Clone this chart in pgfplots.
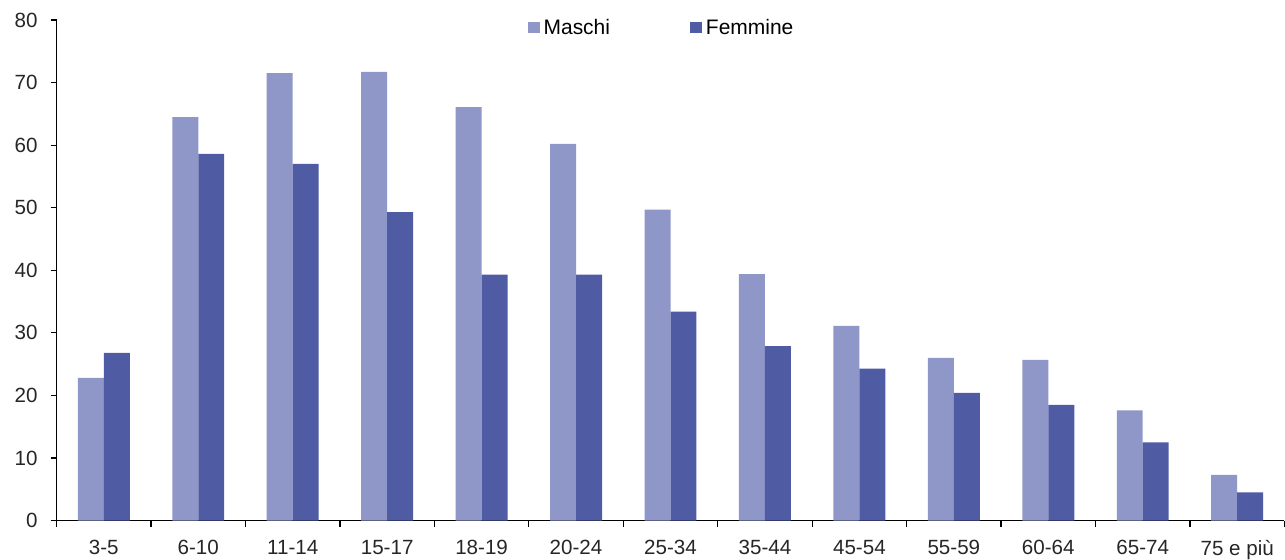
\documentclass[border={4pt 0pt 0pt 5.5pt}]{standalone}
\usepackage{fontspec}
\setmainfont{Liberation Sans}
\usepackage{pgfplots}
\pgfplotsset{compat=1.18}
\definecolor{maschi}{HTML}{8F96C8}
\definecolor{femmine}{HTML}{4F5BA3}
\begin{document}
\begin{tikzpicture}
\begin{axis}[
  scale only axis,
  width=614.5pt, height=250.5pt,
  ymin=0, ymax=80,
  ytick={0,10,...,80},
  xmin=-0.5, xmax=12.5,
  ybar=0pt, bar width=13pt,
  axis x line*=bottom, axis y line*=left,
  axis line style={black, line width=0.6pt},
  xtick={0,...,12},
  xticklabels={3-5,6-10,11-14,15-17,18-19,20-24,25-34,35-44,45-54,55-59,60-64,65-74,75 e più},
  major x tick style={draw=none},
  minor xtick={-0.5,0.5,...,12.5},
  minor tick length=3pt,
  minor x tick style={black, line width=0.6pt},
  major tick length=3pt,
  y tick style={black, line width=0.6pt},
  tick align=outside,
  ticklabel style={font=\fontsize{10.3}{12}\selectfont, text=black!85},
  /pgf/number format/assume math mode=true,
  xticklabel style={inner ysep=0pt, yshift=-6.5pt},
  yticklabel style={inner ysep=0pt, xshift=-3pt},
  legend style={draw=none, fill=none, legend columns=2, at={(0.4935,0.984)}, anchor=center,
    font=\fontsize{10.5}{12}\selectfont, /tikz/every even column/.append style={column sep=38pt}},
  legend image code/.code={\fill[#1] (1.2pt,-2.6pt) rectangle (7.2pt,2.9pt);},
  clip=false,
]
\addplot[fill=maschi, draw=none] coordinates {(0,22.8) (1,64.5) (2,71.5) (3,71.7) (4,66.1) (5,60.2) (6,49.7) (7,39.4) (8,31.1) (9,26.0) (10,25.7) (11,17.6) (12,7.3)};
\addplot[fill=femmine, draw=none] coordinates {(0,26.8) (1,58.6) (2,57.0) (3,49.3) (4,39.3) (5,39.3) (6,33.4) (7,27.9) (8,24.3) (9,20.4) (10,18.5) (11,12.5) (12,4.5)};
\legend{Maschi,Femmine}
\end{axis}
\end{tikzpicture}
\end{document}
